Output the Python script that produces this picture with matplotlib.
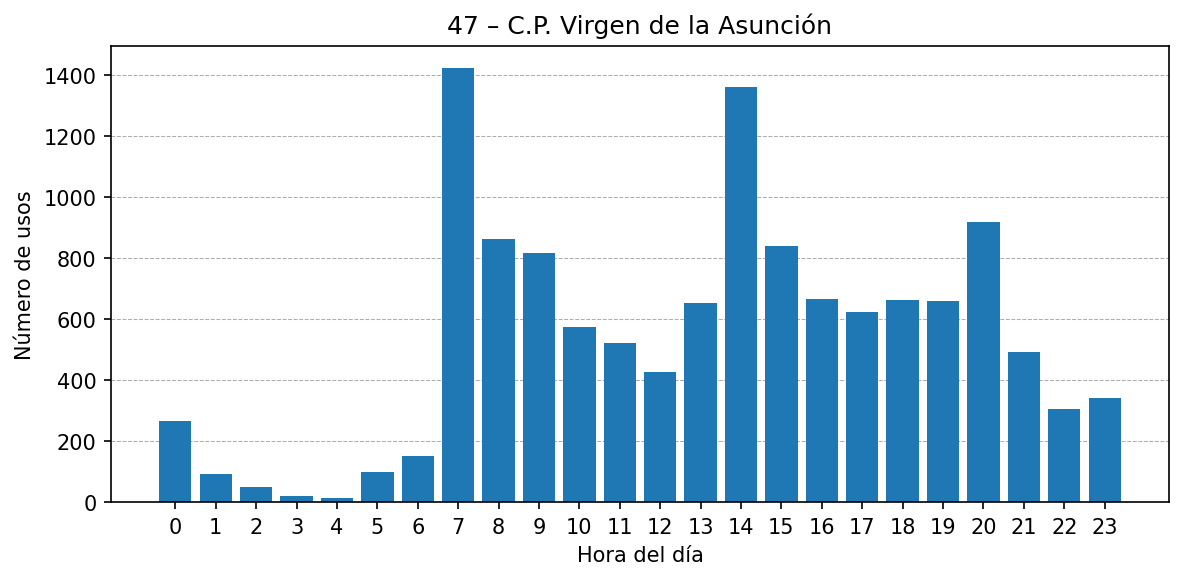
import matplotlib
matplotlib.use("Agg")
from matplotlib import pyplot as plt

horas = list(range(24))
usos = [265, 91, 48, 19, 12, 98, 150, 1424, 861, 815, 575, 522,
        427, 651, 1360, 838, 667, 624, 664, 660, 917, 493, 306, 342]

fig, ax = plt.subplots(figsize=(7.893, 3.873), dpi=150)
ax.bar(horas, usos, color='#1f77b4')
ax.set_xticks(horas)
ax.set_title('47 – C.P. Virgen de la Asunción')
ax.set_xlabel('Hora del día')
ax.set_ylabel('Número de usos')
ax.grid(axis='y', linestyle='--', linewidth=0.5, color='#999999', alpha=0.8)
ax.set_axisbelow(True)
fig.subplots_adjust(left=0.0938, right=0.9873, top=0.9191, bottom=0.1343)
fig.savefig('out.png')
